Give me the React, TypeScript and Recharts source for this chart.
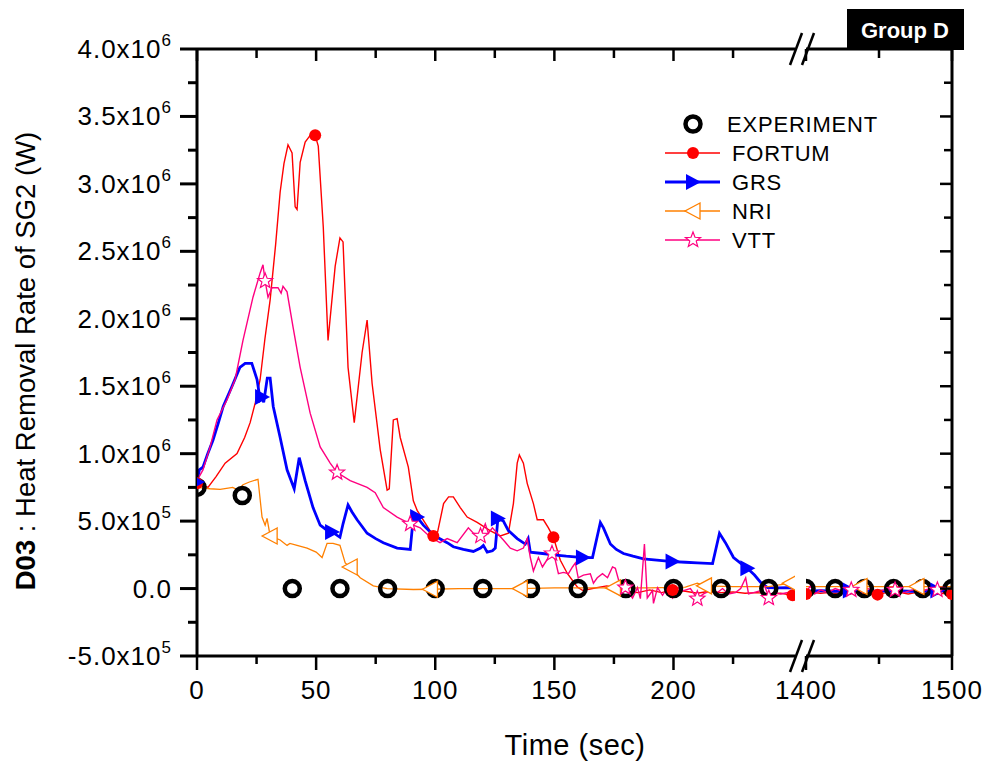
import React from "react";
import { ComposedChart, Line, XAxis, YAxis, ReferenceLine } from "recharts";

type Pt = [number, number];

// time (s) vs heat removal rate in units of 1e5 W
const EXP_EARLY: Pt[] = [
  [0, 7.5], [19, 6.9], [40, 0], [60, 0], [80, 0], [100, 0], [120, 0],
  [140, 0], [160, 0], [180, 0], [200, 0], [220, 0], [240, 0],
];
const EXP_LATE: Pt[] = [[1400, 0], [1420, 0], [1440, 0], [1460, 0], [1480, 0], [1500, 0]];

const FORTUM_EARLY: Pt[] = [
  [0, 7.8], [2, 7.7], [4.6, 7.5], [8, 8.3], [11.8, 9.3], [16.8, 10.0], [20, 11.2],
  [22.3, 12.3], [24.5, 13.8], [26.5, 15.5], [28.5, 18.5], [30.7, 21.4], [33, 25.5],
  [34.9, 29.4], [36.5, 31.5], [38.2, 32.9], [39.9, 32.3], [41.2, 28.3], [42, 28.1],
  [43.3, 31.6], [45.4, 33.1], [47.5, 33.6], [49.6, 33.6], [50.9, 32.8], [53, 26.8],
  [55, 18.4], [58, 23.9], [60, 26], [61.3, 25.7], [63.4, 16.4], [66, 12.3],
  [69.3, 17.5], [71.4, 19.9], [73.5, 15.2], [76.9, 10.3], [79.8, 7.3], [80.7, 7.4],
  [82.4, 12.5], [84, 12.6], [85.3, 11.2], [88.7, 9.0], [90.8, 6.5], [92.4, 5.8],
  [96, 4.8], [99.2, 3.9], [101, 4.2], [103.5, 6.3], [105.6, 6.8], [107.6, 6.8],
  [110.5, 6.0], [113.4, 5.3], [117.6, 4.9], [123, 4.3], [127.3, 3.9], [130.7, 4.1],
  [132.8, 6.3], [134.4, 9.3], [135.3, 9.9], [137, 9.3], [138.6, 7.8], [141.2, 6.3],
  [142.8, 5.1], [145.4, 5.1], [147.5, 4.5], [149.6, 3.8], [152.5, 2.1], [155.5, 1.1],
  [159.7, 0.1], [162, -0.15], [166, 0.0], [172, 0.2], [175, 0.1], [180, -0.2],
  [185, -0.3], [190, -0.1], [195, -0.3], [199.6, -0.1], [205, -0.2], [210, -0.35],
  [215, -0.2], [220, -0.3], [225, -0.25], [230, -0.35], [235, -0.3], [240, -0.4],
  [245, -0.35], [250, -0.5],
];
const FORTUM_LATE: Pt[] = [
  [1400, -0.4], [1405, -0.3], [1410, -0.35], [1415, -0.3], [1420, -0.35], [1425, -0.3],
  [1430, -0.4], [1435, -0.3], [1440, -0.35], [1445, -0.4], [1449, -0.45], [1455, -0.3],
  [1460, -0.35], [1465, -0.3], [1470, -0.4], [1475, -0.3], [1480, -0.35], [1485, -0.3],
  [1490, -0.4], [1495, -0.35], [1500, -0.4],
];

const GRS_EARLY: Pt[] = [
  [0, 7.9], [1, 8.8], [2.5, 9.0], [4.5, 10.0], [6.7, 11.0], [9, 12.3], [11, 13.5],
  [14.7, 15.0], [18, 16.4], [20.2, 16.7], [23, 16.7], [25.2, 15.5], [26.5, 14.0],
  [27.3, 14.2], [28, 13.8], [29.5, 15.6], [30.7, 15.6], [32, 13.5], [34.9, 11.2],
  [37.8, 8.8], [40.8, 7.4], [42.9, 9.7], [45.4, 8.0], [48.7, 6.0], [51.7, 4.7],
  [54, 4.4], [56.7, 4.2], [60, 3.8], [61.3, 4.8], [63.4, 6.2], [65, 5.7], [67.2, 5.1],
  [71.4, 4.1], [75, 3.7], [78.2, 3.4], [84, 3.0], [89.5, 2.9], [90.8, 5.3], [92.4, 5.3],
  [95, 4.7], [97.9, 4.2], [100.8, 3.8], [105, 3.4], [107.6, 3.1], [111.8, 2.9],
  [116, 2.75], [119, 3.0], [120.2, 3.2], [121.8, 2.7], [124, 2.8], [125.2, 3.0],
  [126.3, 5.2], [128.6, 5.0], [130.7, 4.3], [134.4, 3.7], [137.8, 3.3], [139, 3.7],
  [139.9, 2.7], [145, 2.6], [149.6, 2.5], [155, 2.4], [162, 2.3], [166, 2.3],
  [169.3, 4.9], [170.6, 4.5], [173.5, 3.3], [176, 2.9], [179, 2.6], [183, 2.4],
  [187.4, 2.2], [193, 2.1], [199.6, 2.0], [205, 1.95], [210, 1.9], [216.4, 1.85],
  [219.3, 4.1], [221.8, 3.4], [225.2, 2.3], [228, 1.9], [231, 1.5], [234, 1.0],
  [236.6, 0.45], [239.5, 0.07], [244, 0.05], [248, 0.07], [251, 0.05],
];
const GRS_LATE: Pt[] = [
  [1400, -0.2], [1410, -0.15], [1420, -0.2], [1430, -0.15], [1440, -0.2], [1450, -0.2],
  [1460, -0.15], [1470, -0.2], [1480, -0.2], [1490, -0.15], [1500, -0.2],
];

const NRI_EARLY: Pt[] = [
  [0, 7.5], [5.5, 7.4], [9.7, 7.35], [15, 7.5], [17.2, 7.3], [19.3, 7.7], [22, 7.9],
  [25.6, 8.1], [27.3, 5.3], [28.6, 4.7], [29.4, 5.2], [30.7, 3.9], [34.9, 3.6],
  [37.8, 3.2], [39, 3.35], [42, 3.2], [46.2, 3.0], [50, 2.7], [52.5, 2.3], [54.6, 3.35],
  [57.1, 3.35], [60, 3.2], [62.2, 1.9], [64.3, 1.6], [68.5, 0.8], [74, 0.2], [79.8, 0.0],
  [90.8, -0.07], [98, -0.05], [110, 0.0], [120, 0.0], [135.7, 0.0], [150, 0.05],
  [160, 0.05], [174.8, 0.05], [190, 0.05], [205, 0.1], [210, 0.4], [213, 0.2],
  [225, 0.15], [240, 0.15], [249, 0.4], [251, 0.5],
];
const NRI_LATE: Pt[] = [[1400, 0.15], [1437, 0.15], [1476, 0.15], [1500, 0.15]];

const VTT_EARLY: Pt[] = [
  [0, 8.0], [2.5, 8.8], [5.5, 10.5], [8.4, 12.5], [12.6, 14.0], [16, 15.5], [19.3, 18.4],
  [23.5, 21.6], [26.5, 23.4], [27.7, 24.0], [28.6, 22.8], [29.8, 21.6], [31.5, 22.3],
  [34, 22.3], [35.3, 21.9], [36.1, 22.4], [37.8, 22.0], [40.3, 19.4], [43.3, 16.4],
  [47.5, 13.0], [51.7, 10.5], [55.9, 9.3], [58.8, 8.6], [64.3, 8.0], [71.4, 7.5],
  [74.8, 7.1], [78.2, 6.0], [84, 5.3], [89.5, 4.8], [93.7, 4.5], [98, 3.8], [102, 3.4],
  [105, 3.7], [109.2, 3.4], [113.9, 4.5], [116, 4.1], [119, 3.9], [121, 4.8],
  [122.3, 4.1], [124, 4.5], [126, 4.1], [128.6, 3.6], [131.5, 3.0], [134.4, 2.8],
  [137, 3.0], [138.6, 3.7], [139.9, 2.3], [141.2, 1.3], [143.3, 2.3], [145, 1.6],
  [147.5, 2.3], [149, 2.6], [150.4, 2.1], [151.7, 1.1], [153.8, 1.2], [155.9, 1.1],
  [157.6, 1.6], [158.8, 1.9], [160, 0.8], [162.2, 1.0], [165.1, 1.1], [166.4, 0.4],
  [168, 0.8], [170.2, 1.1], [172.3, 0.8], [174.4, 1.6], [175.6, 1.5], [177, 0.6],
  [179.8, 0.07], [182.8, -0.7], [184.9, 0.07], [186.1, -0.75], [187.8, 3.3], [189, -0.7],
  [191.2, -0.15], [191.6, -1.1], [193.3, 0.07], [195.4, -0.5], [197.5, 0.07],
  [199.6, -0.7], [201.7, 0.07], [204.2, -0.15], [207.1, 0.0], [210, -0.75],
  [212.6, -0.4], [215.5, -0.15], [217.6, -0.4], [220.6, 0.0], [223.1, -0.4], [226, -0.3],
  [228.2, 0.0], [230.3, 0.8], [231.5, -0.4], [233.6, -0.3], [236.6, -0.15],
  [237.8, 0.45], [240, -0.7], [242, -0.3], [245, -0.4], [248, -0.3], [250.4, -0.5],
];
const VTT_LATE: Pt[] = [
  [1400, -0.3], [1403, 0.2], [1406, -0.4], [1410, -0.1], [1415, -0.3], [1420, 0.0],
  [1425, -0.2], [1431, -0.1], [1436, -0.3], [1442, 0.0], [1448, -0.2], [1454, -0.1],
  [1461, -0.1], [1467, -0.3], [1473, -0.1], [1479, -0.2], [1485, 0.0], [1490, -0.1],
  [1495, -0.3], [1500, -0.1],
];

// times where each curve carries its symbol
const FORTUM_MARKS = [0, 49.6, 99.2, 149.6, 199.6, 250, 1400, 1449, 1500];
const GRS_MARKS = [0, 27.3, 56.7, 92.4, 126.3, 162, 199.6, 231, 1430, 1490];
const NRI_MARKS = [30.7, 64.3, 98, 135.7, 174.8, 213, 249, 1437, 1476];
const VTT_MARKS = [28.6, 58.8, 89.5, 119, 149, 179.8, 210, 240, 1431, 1461, 1490];

const Y_TICKS = [-5e5, -2.5e5, 0, 2.5e5, 5e5, 7.5e5, 1e6, 1.25e6, 1.5e6, 1.75e6, 2e6,
  2.25e6, 2.5e6, 2.75e6, 3e6, 3.25e6, 3.5e6, 3.75e6, 4e6];
const X_TICKS_EARLY = [0, 25, 50, 75, 100, 125, 150, 175, 200, 225];
const X_TICKS_LATE = [1400, 1450, 1500];

const FONT = "'Liberation Sans', Arial, sans-serif";
const PLOT_TOP = 49;

const toRows = (pts: Pt[]) => pts.map(([t, v]) => ({ t, v: v * 1e5 }));

type Shape = "ring" | "dot" | "triRight" | "triLeft" | "star";

const SERIES = [
  { name: "EXPERIMENT", color: "#000000", width: 0, shape: "ring" as Shape, early: EXP_EARLY, late: EXP_LATE, marks: null as number[] | null },
  { name: "FORTUM", color: "#ff0000", width: 1.4, shape: "dot" as Shape, early: FORTUM_EARLY, late: FORTUM_LATE, marks: FORTUM_MARKS },
  { name: "GRS", color: "#0000ff", width: 2.8, shape: "triRight" as Shape, early: GRS_EARLY, late: GRS_LATE, marks: GRS_MARKS },
  { name: "NRI", color: "#ff8000", width: 1.3, shape: "triLeft" as Shape, early: NRI_EARLY, late: NRI_LATE, marks: NRI_MARKS },
  { name: "VTT", color: "#ff0080", width: 1.4, shape: "star" as Shape, early: VTT_EARLY, late: VTT_LATE, marks: VTT_MARKS },
];

function starPoints(cx: number, cy: number, R: number, r: number) {
  const pts: string[] = [];
  for (let i = 0; i < 10; i++) {
    const a = -Math.PI / 2 + (i * Math.PI) / 5;
    const rad = i % 2 === 0 ? R : r;
    pts.push(`${cx + rad * Math.cos(a)},${cy + rad * Math.sin(a)}`);
  }
  return pts.join(" ");
}

function Marker({ shape, color, cx, cy }: { shape: Shape; color: string; cx: number; cy: number }) {
  switch (shape) {
    case "ring":
      return <circle cx={cx} cy={cy} r={7.5} fill="none" stroke="#000" strokeWidth={4.5} />;
    case "dot":
      return <circle cx={cx} cy={cy} r={6} fill={color} />;
    case "triRight":
      return <polygon points={`${cx - 7},${cy - 8} ${cx + 8},${cy} ${cx - 7},${cy + 8}`} fill={color} />;
    case "triLeft":
      return <polygon points={`${cx + 7},${cy - 8} ${cx - 8},${cy} ${cx + 7},${cy + 8}`} fill="#fff" stroke={color} strokeWidth={1.3} />;
    default:
      return <polygon points={starPoints(cx, cy, 8, 3.4)} fill="#fff" stroke={color} strokeWidth={1.2} />;
  }
}

const makeDot = (s: (typeof SERIES)[number]) => (p: any) => {
  const key = `${s.name}-${p.index}-${p.payload?.t}`;
  if (p.cx == null || p.cy == null) return <g key={key} />;
  if (s.marks && !s.marks.includes(p.payload.t)) return <g key={key} />;
  return (
    <g key={key}>
      <Marker shape={s.shape} color={s.color} cx={p.cx} cy={p.cy} />
    </g>
  );
};

function powLabel(v: number) {
  if (v === 0) return { base: "0.0", exp: "" };
  const e = Math.floor(Math.log10(Math.abs(v)));
  return { base: `${(v / 10 ** e).toFixed(1)}x10`, exp: String(e) };
}

const LeftTick = (p: any) => {
  const { x, y, payload } = p;
  const v = payload.value;
  const major = Math.abs(v % 5e5) < 1;
  const { base, exp } = powLabel(v);
  return (
    <g>
      <line x1={x - (major ? 17 : 9)} x2={x} y1={y} y2={y} stroke="#000" strokeWidth={3} />
      {major && (
        <text x={x - 25} y={y + 9} textAnchor="end" fontSize={26} letterSpacing={1} fill="#000" fontFamily={FONT}>
          {base}
          {exp && (
            <tspan dy={-12} fontSize={17}>
              {exp}
            </tspan>
          )}
        </text>
      )}
    </g>
  );
};

const RightTick = (p: any) => {
  const { x, y, payload } = p;
  const major = Math.abs(payload.value % 5e5) < 1;
  return <line x1={x - (major ? 12 : 8)} x2={x} y1={y} y2={y} stroke="#000" strokeWidth={2.5} />;
};

const makeBottomTick = (labelEvery: number, tickEvery: number) => (p: any) => {
  const { x, y, payload } = p;
  const v = payload.value;
  const major = v % tickEvery === 0;
  const labelled = v % labelEvery === 0;
  return (
    <g>
      <line x1={x} x2={x} y1={y} y2={y + (major ? 14 : 8)} stroke="#000" strokeWidth={2.5} />
      <line x1={x} x2={x} y1={PLOT_TOP} y2={PLOT_TOP + (major ? 12 : 9)} stroke="#000" strokeWidth={2.5} />
      {labelled && (
        <text x={x} y={y + 43} textAnchor="middle" fontSize={26} letterSpacing={1} fill="#000" fontFamily={FONT}>
          {v}
        </text>
      )}
    </g>
  );
};

const EARLY_TICK = makeBottomTick(50, 50);
const LATE_TICK = makeBottomTick(100, 100);

const AXIS_LINE = { stroke: "#000", strokeWidth: 3 };

function Segment({ early }: { early: boolean }) {
  const width = early ? 800 : 992;
  const margin = early
    ? { top: PLOT_TOP, right: 5, left: 0, bottom: 0 }
    : { top: PLOT_TOP, right: 0, left: 806, bottom: 0 };
  return (
    <div style={{ position: "absolute", left: 0, top: 0 }}>
      <ComposedChart width={width} height={770} margin={margin}>
        <XAxis
          type="number"
          dataKey="t"
          domain={early ? [0, 251] : [1400, 1500]}
          ticks={early ? X_TICKS_EARLY : X_TICKS_LATE}
          interval={0}
          allowDataOverflow
          height={114}
          tickSize={0}
          tickMargin={0}
          tick={early ? EARLY_TICK : LATE_TICK}
          axisLine={AXIS_LINE}
        />
        <YAxis
          type="number"
          domain={[-5e5, 4e6]}
          ticks={Y_TICKS}
          interval={0}
          allowDataOverflow
          orientation={early ? "left" : "right"}
          width={early ? 197 : 40}
          tickSize={0}
          tickMargin={0}
          tick={early ? LeftTick : RightTick}
          axisLine={AXIS_LINE}
        />
        <ReferenceLine y={4e6} stroke="#000" strokeWidth={3} />
        {SERIES.map((s) => (
          <Line
            key={s.name}
            data={toRows(early ? s.early : s.late)}
            dataKey="v"
            type="linear"
            stroke={s.width ? s.color : "none"}
            strokeWidth={s.width || 1}
            dot={makeDot(s)}
            activeDot={false}
            isAnimationActive={false}
          />
        ))}
      </ComposedChart>
    </div>
  );
}

function Overlay() {
  const legendRows = [124, 153, 182, 211, 240];
  return (
    <svg width={992} height={770} style={{ position: "absolute", left: 0, top: 0, pointerEvents: "none" }}>
      {/* axis breaks */}
      {[PLOT_TOP, 656].map((y) => (
        <g key={y} stroke="#000" strokeWidth={2.5}>
          <line x1={790} y1={y + 16} x2={802} y2={y - 16} />
          <line x1={802} y1={y + 16} x2={814} y2={y - 16} />
        </g>
      ))}
      <text
        x={35}
        y={361}
        transform="rotate(-90 35 361)"
        textAnchor="middle"
        fontSize={27.5}
        fontFamily={FONT}
        fill="#000"
      >
        <tspan fontWeight="bold">D03</tspan> : Heat Removal Rate of SG2 (W)
      </text>
      <text x={575} y={755} textAnchor="middle" fontSize={29} letterSpacing={0.5} fontFamily={FONT} fill="#000">
        Time (sec)
      </text>
      <rect x={847} y={9} width={117} height={41} fill="#000" />
      <text x={905} y={38} textAnchor="middle" fontSize={22} fontWeight="bold" fontFamily={FONT} fill="#fff">
        Group D
      </text>
      {SERIES.map((s, i) => {
        const y = legendRows[i];
        return (
          <g key={s.name}>
            {s.width > 0 && <line x1={665} x2={720} y1={y} y2={y} stroke={s.color} strokeWidth={s.width} />}
            <Marker shape={s.shape} color={s.color} cx={693} cy={y} />
            <text x={s.width > 0 ? 732 : 727} y={y + 8} fontSize={22} letterSpacing={0.8} fontFamily={FONT} fill="#000">
              {s.name}
            </text>
          </g>
        );
      })}
    </svg>
  );
}

export default function App() {
  return (
    <div style={{ position: "relative", width: 992, height: 770, background: "#fff", fontFamily: FONT }}>
      <style>{"body{margin:0;background:#fff}"}</style>
      <Segment early />
      <Segment early={false} />
      <Overlay />
    </div>
  );
}
